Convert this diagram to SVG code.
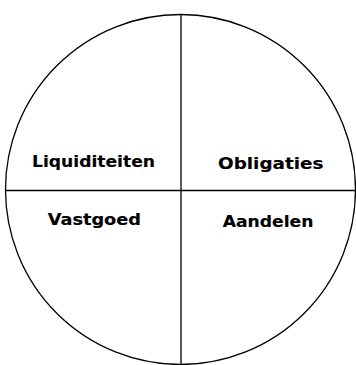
<svg xmlns="http://www.w3.org/2000/svg" width="356" height="365" viewBox="0 0 356 365">
<style>
.lbl{font-family:"DejaVu Sans","Liberation Sans",sans-serif;font-weight:bold;font-size:16px;fill:#000;stroke:#000;stroke-width:0.15}
.ln{stroke:#000;stroke-width:1.3;fill:none}
</style>
<rect width="356" height="365" fill="#fff"/>
<g id="circle"><circle class="ln" cx="180.5" cy="189.5" r="175" stroke-width="1.2"/></g>
<g id="connectors">
<line class="ln" x1="181" y1="14" x2="181" y2="365"/>
<line class="ln" x1="6" y1="190.5" x2="356" y2="190.5"/>
</g>
<g id="liquiditeiten"><text class="lbl" x="32" y="167.3" textLength="123" lengthAdjust="spacingAndGlyphs">Liquiditeiten</text></g>
<g id="obligaties"><text class="lbl" x="218" y="169.3" textLength="105.5" lengthAdjust="spacingAndGlyphs">Obligaties</text></g>
<g id="vastgoed"><text class="lbl" x="47.7" y="225" textLength="93.3" lengthAdjust="spacingAndGlyphs">Vastgoed</text></g>
<g id="aandelen"><text class="lbl" x="222.7" y="226.7" textLength="90.7" lengthAdjust="spacingAndGlyphs">Aandelen</text></g>
</svg>
